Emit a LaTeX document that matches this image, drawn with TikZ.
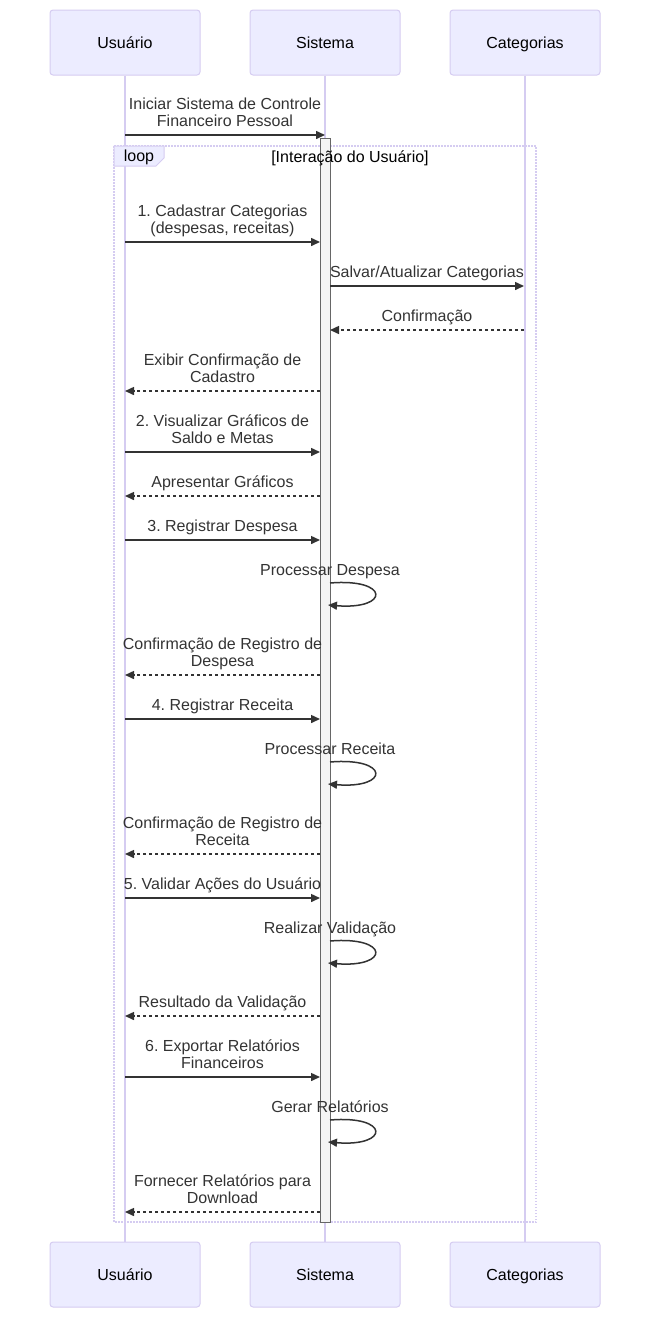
\documentclass[tikz,border=0pt]{standalone}
\usepackage{fontspec}
\setmainfont{Liberation Sans}
\usepackage{tikz}
\usetikzlibrary{arrows.meta}
\usetikzlibrary{positioning}
\frenchspacing
\definecolor{actorfill}{HTML}{ECECFF}
\definecolor{lavender}{HTML}{D5CCF1}
\definecolor{inkgray}{HTML}{333333}
\definecolor{actgray}{HTML}{666666}
\definecolor{actfill}{HTML}{F4F4F4}
\tikzset{
    actor/.style={
        draw=lavender, fill=actorfill, rounded corners=3pt, line width=1pt,
        minimum width=150pt, minimum height=65pt, text=black,
        text height=14pt, text depth=1.4pt,
        font=\fontsize{16}{17}\selectfont
    },
    lifeline/.style={draw=lavender, line width=1.5pt},
    msg/.style={
        draw=inkgray, line width=1.5pt,
        -{Triangle[length=9pt,width=8pt]}
    },
    reply/.style={msg, dash pattern=on 3pt off 3pt},
    msgtext/.style={
        anchor=south, inner sep=0pt, align=center, text=inkgray,
        font=\fontsize{16}{17}\selectfont
    },
    framelabel/.style={text=black, font=\fontsize{16}{17}\selectfont},
    activation/.style={draw=actgray, fill=actfill, line width=1pt},
    loopframe/.style={draw=lavender, line width=1.5pt, dash pattern=on 1.5pt off 1.5pt}
}
\newcommand{\sendMsg}[6] {
	\coordinate (#1a) at (#3,#2);
	\coordinate (#1b) at (#4,#2);
	\draw[#5] (#1a) -- (#1b) node[msgtext, midway, above=2.5pt] {#6\strut};
}
\newcommand{\selfMsg}[3] {
	\coordinate (#1a) at (330,#2);
	\coordinate (#1b) at (328,#2+22);
	\draw[msg] (#1a) .. controls (390,#2-5) and (390,#2+27) .. (#1b);
	\node[msgtext, above=2.5pt] at (#1a) {#3\strut};
}
\begin{document}
\begin{tikzpicture}[x=1pt, y=-1pt]
		\useasboundingbox (0,0) rectangle (650,1318);

		% Participants
		\node[actor] (usuarioTop) at (125,42.5) {Usuário};
		\node[actor] (sistemaTop) at (325,42.5) {Sistema};
		\node[actor] (categoriasTop) at (525,42.5) {Categorias};
		\node[actor] (usuarioBot) at (125,1274.5) {Usuário};
		\node[actor] (sistemaBot) at (325,1274.5) {Sistema};
		\node[actor] (categoriasBot) at (525,1274.5) {Categorias};

		\draw[lifeline] (usuarioTop) -- (usuarioBot);
		\draw[lifeline] (sistemaTop) -- (sistemaBot);
		\draw[lifeline] (categoriasTop) -- (categoriasBot);

		% Loop frame and activation of Sistema
		\draw[loopframe] (114,146) rectangle (536,1222);
		\draw[activation] (320,138) rectangle (330,1222);
		\filldraw[draw=lavender, fill=actorfill, line width=1pt]
			(114,146) -- (164,146) -- (164,158) -- (156,166) -- (114,166) -- cycle;
		\node[framelabel] (loopTag) at (139,157) {loop};
		\node[framelabel] (loopCond) at (350,158) {[Interação do Usuário]};

		% Messages
		\sendMsg{m0}{135}{125}{325}{msg}{Iniciar Sistema de Controle\\Financeiro Pessoal}
		\sendMsg{m1}{242}{125}{320}{msg}{1. Cadastrar Categorias\\(despesas, receitas)}
		\sendMsg{m2}{286}{330}{524}{msg}{Salvar/Atualizar Categorias}
		\sendMsg{m3}{330}{524}{330}{reply}{Confirmação}
		\sendMsg{m4}{391}{320}{125}{reply}{Exibir Confirmação de\\Cadastro}
		\sendMsg{m5}{452}{125}{320}{msg}{2. Visualizar Gráficos de\\Saldo e Metas}
		\sendMsg{m6}{496}{320}{125}{reply}{Apresentar Gráficos}
		\sendMsg{m7}{540}{125}{320}{msg}{3. Registrar Despesa}
		\selfMsg{s1}{583}{Processar Despesa}
		\sendMsg{m8}{675}{320}{125}{reply}{Confirmação de Registro de\\Despesa}
		\sendMsg{m9}{719}{125}{320}{msg}{4. Registrar Receita}
		\selfMsg{s2}{762}{Processar Receita}
		\sendMsg{m10}{854}{320}{125}{reply}{Confirmação de Registro de\\Receita}
		\sendMsg{m11}{898}{125}{320}{msg}{5. Validar Ações do Usuário}
		\selfMsg{s3}{941}{Realizar Validação}
		\sendMsg{m12}{1016}{320}{125}{reply}{Resultado da Validação}
		\sendMsg{m13}{1077}{125}{320}{msg}{6. Exportar Relatórios\\Financeiros}
		\selfMsg{s4}{1120}{Gerar Relatórios}
		\sendMsg{m14}{1212}{320}{125}{reply}{Fornecer Relatórios para\\Download}

	\end{tikzpicture}
\end{document}
